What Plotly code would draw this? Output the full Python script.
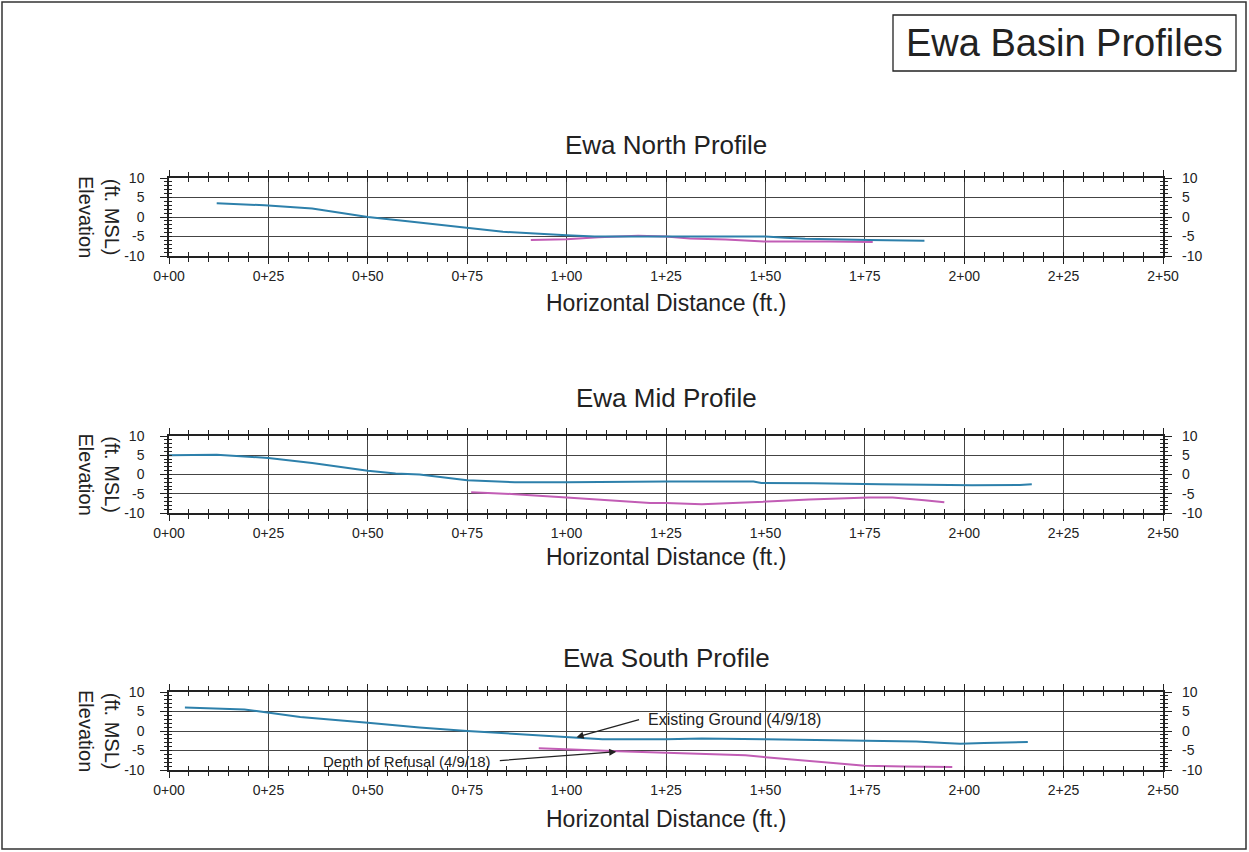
import plotly.graph_objects as go

# ---------------- data ----------------
stations = [0, 25, 50, 75, 100, 125, 150, 175, 200, 225, 250]
station_labels = ["0+00", "0+25", "0+50", "0+75", "1+00", "1+25",
                  "1+50", "1+75", "2+00", "2+25", "2+50"]
elev_ticks = [-10, -5, 0, 5, 10]
elev_labels = ["-10", "-5", "0", "5", "10"]

profile_titles = ["Ewa North Profile", "Ewa Mid Profile", "Ewa South Profile"]
x_title = "Horizontal Distance (ft.)"
y_title = "(ft. MSL)<br>Elevation"
main_title = "Ewa Basin Profiles"
ground_label = "Existing Ground (4/9/18)"
refusal_label = "Depth of Refusal (4/9/18)"

north_ground_x = [12, 24, 36, 43, 50, 60, 75, 84, 100, 107, 125, 150, 155, 160, 176, 185, 190]
north_ground_y = [3.5, 3.0, 2.2, 1.1, 0.0, -1.1, -2.7, -3.8, -4.65, -5.0, -5.0, -5.0, -5.3, -5.6, -5.9, -6.1, -6.1]
north_refusal_x = [91, 100, 108, 118, 125, 131, 140, 150, 166, 177]
north_refusal_y = [-5.9, -5.7, -5.2, -4.8, -5.0, -5.5, -5.8, -6.3, -6.3, -6.4]

mid_ground_x = [0, 12, 25, 36, 50, 57, 63, 75, 87, 100, 125, 147, 149, 161, 162, 179, 202, 214, 217]
mid_ground_y = [5.0, 5.1, 4.3, 3.0, 1.0, 0.25, 0.0, -1.5, -2.0, -2.0, -1.8, -1.8, -2.2, -2.2, -2.3, -2.5, -2.8, -2.7, -2.5]
mid_refusal_x = [76, 87, 100, 108, 121, 125, 134, 145, 150, 161, 176, 182, 190, 195]
mid_refusal_y = [-4.6, -5.1, -6.0, -6.5, -7.4, -7.4, -7.7, -7.3, -7.0, -6.5, -6.0, -6.0, -6.7, -7.2]

south_ground_x = [4, 19, 22, 25, 33, 50, 63, 75, 90, 99, 103, 109, 125, 134, 150, 166, 175, 188, 195, 199, 205, 210, 216]
south_ground_y = [6.0, 5.5, 5.1, 4.7, 3.6, 2.1, 0.9, 0.0, -0.85, -1.5, -1.6, -2.1, -2.1, -1.9, -2.1, -2.3, -2.5, -2.7, -3.1, -3.3, -3.05, -2.9, -2.8]
south_refusal_x = [93, 99, 108, 113, 125, 145, 150, 162, 175, 185, 197]
south_refusal_y = [-4.4, -4.7, -5.0, -5.2, -5.6, -6.2, -6.7, -7.8, -8.9, -9.1, -9.2]

ground_series = [(north_ground_x, north_ground_y), (mid_ground_x, mid_ground_y), (south_ground_x, south_ground_y)]
refusal_series = [(north_refusal_x, north_refusal_y), (mid_refusal_x, mid_refusal_y), (south_refusal_x, south_refusal_y)]

# ---------------- layout helpers ----------------
W, H = 1249, 852
FONT = "Liberation Sans, Arial, Helvetica, sans-serif"
INK = "#222222"
GROUND_COLOR = "#2d80ab"
REFUSAL_COLOR = "#c25db5"


def fx(p):
    return p / W


def fy(p):
    return 1 - p / H


x_dom = [fx(169), fx(1163)]
plot_px = [(178, 256), (436, 513), (692, 770)]
title_px = [145, 398, 658]
xtitle_px = [303, 557, 819]

fig = go.Figure()
layout = dict(
    width=W, height=H, autosize=False,
    margin=dict(l=0, r=0, t=0, b=0, pad=0, autoexpand=False),
    paper_bgcolor="white", plot_bgcolor="white",
    font=dict(family=FONT, color=INK),
    showlegend=False,
    annotations=[], shapes=[],
)

for k in range(3):
    xn = "x" if k == 0 else f"x{k + 1}"
    yn = "y" if k == 0 else f"y{k + 1}"
    xo = f"x{k + 4}"
    yo = f"y{k + 4}"
    top, bot = plot_px[k]
    y_dom = [fy(bot), fy(top)]
    xkey = "xaxis" if k == 0 else f"xaxis{k + 1}"
    ykey = "yaxis" if k == 0 else f"yaxis{k + 1}"

    layout[xkey] = dict(
        domain=x_dom, anchor=yn, range=[0, 250], automargin=False,
        tickmode="array", tickvals=stations, ticktext=station_labels,
        ticks="outside", ticklen=6, tickwidth=1.2, tickcolor=INK,
        showline=True, linecolor=INK, linewidth=1.5, mirror="allticks",
        showgrid=True, gridcolor="#444444", gridwidth=1.1, zeroline=False,
        minor=dict(tickmode="linear", tick0=0, dtick=5, ticks="outside", ticklen=4,
                   tickwidth=1, tickcolor=INK, showgrid=False),
        tickfont=dict(size=14, color=INK, family=FONT),
        fixedrange=True,
    )
    layout[f"xaxis{k + 4}"] = dict(
        overlaying=xn, anchor=yn, range=[0, 250], automargin=False,
        tickmode="array", tickvals=stations, showticklabels=False,
        ticks="inside", ticklen=4, tickwidth=1.2, tickcolor=INK,
        showline=False, mirror="allticks", showgrid=False, zeroline=False,
        minor=dict(tickmode="linear", tick0=0, dtick=5, ticks="inside", ticklen=4,
                   tickwidth=1, tickcolor=INK, showgrid=False),
        fixedrange=True,
    )
    layout[ykey] = dict(
        domain=y_dom, anchor=xn, range=[-10, 10], automargin=False,
        tickmode="array", tickvals=elev_ticks, ticktext=elev_labels,
        ticks="outside", ticklen=7, tickwidth=1.2, tickcolor=INK,
        showline=True, linecolor=INK, linewidth=1.5, mirror="allticks",
        showgrid=True, gridcolor="#444444", gridwidth=1.1, zeroline=False,
        minor=dict(tickmode="linear", tick0=-10, dtick=1, ticks="outside", ticklen=3,
                   tickwidth=1, tickcolor=INK, showgrid=False),
        tickfont=dict(size=14, color=INK, family=FONT),
        ticklabelstandoff=13,
        fixedrange=True,
    )
    layout[f"yaxis{k + 4}"] = dict(
        overlaying=yn, anchor=xn, side="right", range=[-10, 10], automargin=False,
        tickmode="array", tickvals=elev_ticks, ticktext=elev_labels,
        ticks="inside", ticklen=3, tickwidth=1.2, tickcolor=INK,
        showline=False, mirror="allticks", showgrid=False, zeroline=False,
        minor=dict(tickmode="linear", tick0=-10, dtick=1, ticks="inside", ticklen=3,
                   tickwidth=1, tickcolor=INK, showgrid=False),
        tickfont=dict(size=14, color=INK, family=FONT),
        ticklabelstandoff=18,
        fixedrange=True,
    )

    gx, gy = ground_series[k]
    rx, ry = refusal_series[k]
    fig.add_trace(go.Scatter(x=rx, y=ry, mode="lines", xaxis=xn, yaxis=yn,
                             line=dict(color=REFUSAL_COLOR, width=2), hoverinfo="skip"))
    fig.add_trace(go.Scatter(x=gx, y=gy, mode="lines", xaxis=xn, yaxis=yn,
                             line=dict(color=GROUND_COLOR, width=2), hoverinfo="skip"))
    fig.add_trace(go.Scatter(x=[None], y=[None], mode="lines", xaxis=xo, yaxis=yo,
                             hoverinfo="skip", showlegend=False))

    layout["annotations"].append(dict(
        text=profile_titles[k], xref="paper", yref="paper",
        x=(x_dom[0] + x_dom[1]) / 2, y=fy(title_px[k]), xanchor="center", yanchor="middle",
        showarrow=False, font=dict(size=26, family=FONT, color=INK)))
    layout["annotations"].append(dict(
        text=x_title, xref="paper", yref="paper",
        x=(x_dom[0] + x_dom[1]) / 2, y=fy(xtitle_px[k]), xanchor="center", yanchor="middle",
        showarrow=False, font=dict(size=23, family=FONT, color=INK)))
    layout["annotations"].append(dict(
        text=y_title, xref="paper", yref="paper", textangle=90,
        x=fx(99), y=fy((top + bot) / 2), xanchor="center", yanchor="middle",
        showarrow=False, font=dict(size=20, family=FONT, color=INK)))

# labels with leader arrows on the south profile
layout["annotations"].append(dict(
    text=ground_label, xref="paper", yref="paper", x=fx(646), y=fy(719),
    xanchor="left", yanchor="middle", showarrow=False,
    font=dict(size=16, family=FONT, color=INK)))
layout["annotations"].append(dict(
    text="", xref="x3", yref="y3", x=102.5, y=-1.6, ax=64, ay=-18,
    showarrow=True, arrowhead=2, arrowsize=1.1, arrowwidth=1.3, arrowcolor=INK, standoff=0))
layout["annotations"].append(dict(
    text=refusal_label, xref="paper", yref="paper", x=fx(493), y=fy(761),
    xanchor="right", yanchor="middle", showarrow=False,
    font=dict(size=15, family=FONT, color=INK)))
layout["annotations"].append(dict(
    text="", xref="x3", yref="y3", x=112.5, y=-5.3, ax=-118, ay=9,
    showarrow=True, arrowhead=2, arrowsize=1.1, arrowwidth=1.3, arrowcolor=INK, standoff=0))

# main title box
layout["annotations"].append(dict(
    text=main_title, xref="paper", yref="paper", x=fx(1064), y=fy(43),
    xanchor="center", yanchor="middle", showarrow=False,
    font=dict(size=38, family=FONT, color=INK)))
layout["shapes"].append(dict(type="rect", xref="paper", yref="paper",
                             x0=fx(893), x1=fx(1236), y0=fy(71), y1=fy(15),
                             line=dict(color=INK, width=1.3)))
# page frame
layout["shapes"].append(dict(type="rect", xref="paper", yref="paper",
                             x0=fx(2), x1=fx(1246), y0=fy(849), y1=fy(2),
                             line=dict(color="#333333", width=1.5)))

fig.update_layout(**layout)
fig.write_html(
    "out.html",
    config={"displayModeBar": False},
    post_script="document.documentElement.style.margin='0';"
                "document.body.style.margin='0';document.body.style.padding='0';"
                "document.body.style.overflow='hidden';",
)
